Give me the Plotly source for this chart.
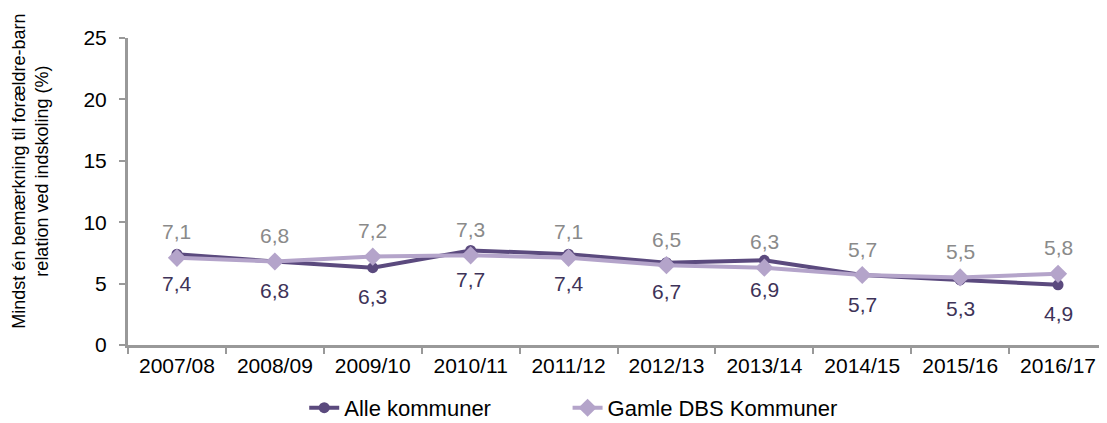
import plotly.graph_objects as go

years = ["2007/08", "2008/09", "2009/10", "2010/11", "2011/12",
         "2012/13", "2013/14", "2014/15", "2015/16", "2016/17"]
alle = [7.4, 6.8, 6.3, 7.7, 7.4, 6.7, 6.9, 5.7, 5.3, 4.9]
gamle = [7.1, 6.8, 7.2, 7.3, 7.1, 6.5, 6.3, 5.7, 5.5, 5.8]

DARK = "#5b4a7e"
LIGHT = "#b4a4ca"
FONT = "Liberation Sans, Arial, sans-serif"

fig = go.Figure()
fig.add_trace(go.Scatter(
    x=years, y=alle, name="Alle kommuner", mode="lines+markers",
    line=dict(color=DARK, width=4),
    marker=dict(symbol="circle", size=11, color=DARK),
    legend="legend",
))
fig.add_trace(go.Scatter(
    x=years, y=gamle, name="Gamle DBS Kommuner", mode="lines+markers",
    line=dict(color=LIGHT, width=4),
    marker=dict(symbol="diamond", size=14, color=LIGHT),
    legend="legend2",
))

# value labels: light series above, dark series below
for yr, v in zip(years, gamle):
    fig.add_annotation(x=yr, y=v, text=f"{v:.1f}".replace(".", ","),
                       showarrow=False, yshift=26,
                       font=dict(size=21, color="#8a8a8a", family=FONT))
for yr, v in zip(years, alle):
    fig.add_annotation(x=yr, y=v, text=f"{v:.1f}".replace(".", ","),
                       showarrow=False, yshift=-29,
                       font=dict(size=21, color="#3e3358", family=FONT))

# y axis title as a rotated annotation
fig.add_annotation(
    xref="paper", yref="paper", x=-0.1, y=0.565,
    text="Mindst én bemærkning til forældre-barn<br>relation ved indskoling (%)",
    textangle=-90, showarrow=False, xanchor="center", yanchor="middle",
    font=dict(size=18, color="#000000", family=FONT),
)

leg = dict(orientation="h", yanchor="middle", y=-0.205, xanchor="left",
           font=dict(size=22), bgcolor="rgba(0,0,0,0)")

# page body has an 8px margin, so the figure is drawn 8px smaller
fig.update_layout(
    width=1099, height=415,
    margin=dict(l=120, r=0, t=30, b=78, autoexpand=False),
    paper_bgcolor="white", plot_bgcolor="white",
    font=dict(family=FONT, size=20, color="#000000"),
    showlegend=True,
    legend=dict(leg, x=0.18),
    legend2=dict(leg, x=0.449),
)
fig.update_xaxes(
    range=[-0.5, 9.5],
    showline=True, linecolor="#999999", linewidth=3,
    ticks="outside", tickson="boundaries", ticklen=6, tickcolor="#999999", tickwidth=2,
    showgrid=False, tickfont=dict(size=21), automargin=False,
)
fig.update_yaxes(
    range=[0, 25], dtick=5, showline=True, linecolor="#999999", linewidth=3,
    ticks="outside", ticklen=6, tickcolor="#999999", tickwidth=2,
    showgrid=False, zeroline=False, tickfont=dict(size=21), automargin=False,
    ticklabelstandoff=8,
)

fig.write_html("out.html")
